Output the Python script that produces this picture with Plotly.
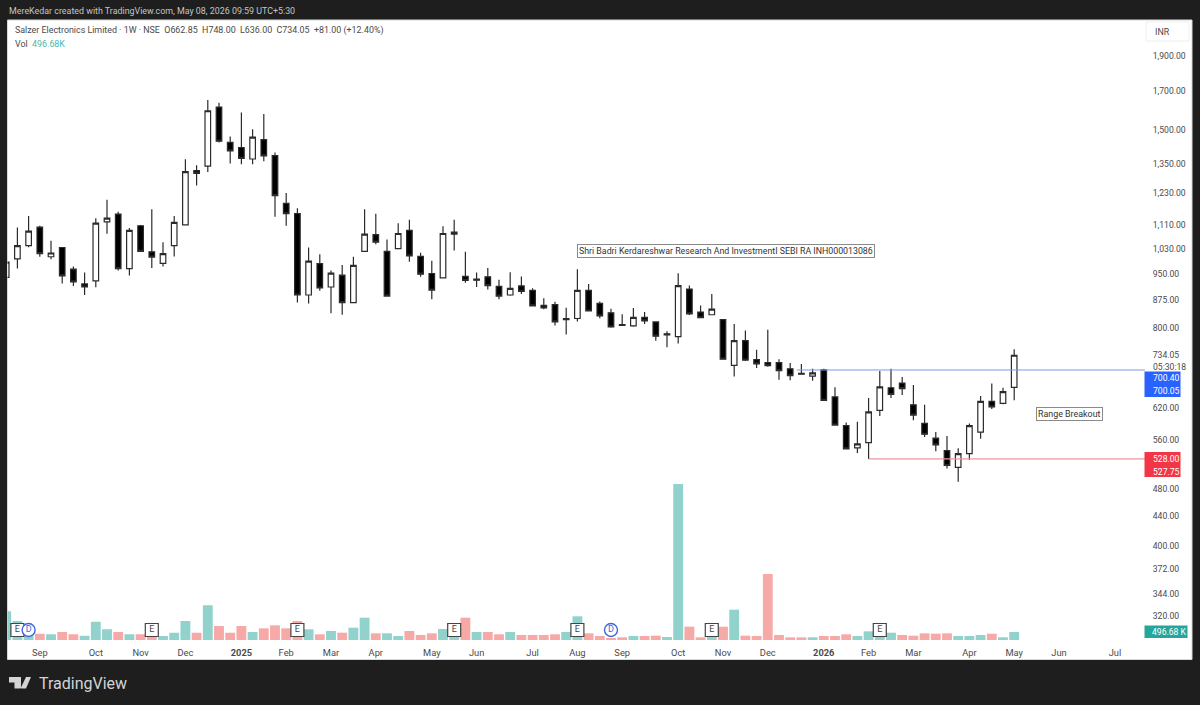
import plotly.graph_objects as go

W, H = 1200, 705

# weekly bars
opens = [940, 997, 1040, 1103, 1004, 1034, 965, 921, 930, 1122, 1150, 967, 1108, 1020, 983, 1040, 1111, 1320, 1339, 1616,
         1444, 1421, 1370, 1457, 1385, 1190, 1152, 889, 982, 912, 947, 868, 1021, 1077, 1021, 1030, 1092, 1005, 952, 939,
         1079, 943, 935, 942, 914, 889, 915, 902, 860, 862, 825, 825, 902, 866, 840, 809, 806, 828, 816, 786,
         779, 906, 842, 835, 822, 711, 769, 724, 717, 717, 703, 693, 687, 701, 643, 587, 547, 556, 616, 662,
         672, 627, 591, 564, 542, 514, 537, 575, 634, 630, 662.85]
highs = [987, 1102, 1143, 1108, 1056, 1034, 973, 955, 1135, 1203, 1158, 1100, 1111, 1168, 1051, 1143, 1369, 1343, 1652, 1638,
         1472, 1588, 1506, 1580, 1398, 1230, 1171, 1034, 1012, 961, 978, 1004, 1168, 1151, 1061, 1117, 1129, 1017, 991, 1106,
         1129, 1020, 955, 969, 933, 956, 943, 908, 880, 870, 854, 965, 921, 871, 851, 836, 853, 842, 817, 792,
         953, 916, 860, 892, 822, 811, 794, 747, 796, 725, 716, 714, 703, 703, 663, 593, 594, 641, 698, 703,
         685, 668, 627, 575, 568, 546, 591, 645, 671, 662, 748]
lows = [940, 967, 1035, 1004, 996, 922, 915, 889, 911, 1080, 961, 946, 1019, 969, 973, 1005, 1111, 1259, 1314, 1444,
        1350, 1347, 1347, 1360, 1140, 1108, 868, 865, 901, 839, 835, 866, 1020, 1045, 885, 1029, 988, 942, 877, 938,
        1024, 924, 912, 905, 877, 887, 892, 858, 850, 807, 784, 817, 844, 826, 801, 806, 804, 811, 769, 753,
        762, 834, 826, 834, 724, 686, 721, 705, 708, 679, 678, 690, 677, 635, 587, 544, 538, 528, 605, 641,
        647, 597, 566, 541, 512, 491, 526, 563, 619, 628, 636]
closes = [987, 1040, 1089, 1014, 1016, 945, 927, 912, 1117, 1135, 967, 1092, 1021, 1003, 1014, 1120, 1316, 1309, 1597, 1450,
          1406, 1373, 1469, 1384, 1219, 1151, 889, 990, 909, 953, 868, 977, 1079, 1052, 886, 1081, 1007, 950, 903, 1081,
          1086, 931, 932, 916, 886, 908, 899, 859, 853, 816, 822, 902, 845, 832, 803, 807, 828, 819, 780, 783,
          916, 837, 827, 850, 725, 769, 723, 714, 710, 699, 688, 691, 694, 636, 588, 545, 554, 613, 664, 648,
          660, 607, 571, 552, 517, 537, 587, 634, 623, 654, 734.05]
volumes = [1780, 1178, 744, 391, 353, 496, 353, 267, 1135, 663, 496, 353, 353, 248, 248, 453, 1178, 453, 2151, 868,
           453, 868, 496, 725, 911, 725, 1178, 663, 353, 558, 453, 763, 1383, 415, 415, 248, 558, 310, 415, 682,
           186, 1383, 496, 496, 353, 496, 310, 310, 310, 353, 496, 1469, 415, 248, 124, 167, 248, 248, 267, 186,
           9672, 825, 167, 186, 825, 1879, 267, 248, 4092, 310, 167, 167, 167, 248, 248, 353, 248, 539, 310, 453,
           310, 267, 415, 391, 415, 248, 248, 310, 391, 167, 496.68]
vol_up = [0, 1, 2, 4, 7, 8, 9, 11, 14, 15, 16, 18, 22, 27, 29, 31, 32, 34, 35, 39, 40, 42, 45, 50, 51, 56, 59, 60, 63,
          65, 72, 76, 77, 78, 79, 85, 86, 87, 89, 90]
weeks = list(range(len(closes)))

month_weeks = [3, 8, 12, 16, 21, 25, 29, 33, 38, 42, 47, 51, 55, 60, 64, 68, 73, 77, 81, 86, 90, 94, 99]
month_labels = ["Sep", "Oct", "Nov", "Dec", "<b>2025</b>", "Feb", "Mar", "Apr", "May", "Jun", "Jul", "Aug", "Sep", "Oct",
                "Nov", "Dec", "<b>2026</b>", "Feb", "Mar", "Apr", "May", "Jun", "Jul"]
price_ticks = [1900, 1700, 1500, 1350, 1230, 1110, 1030, 950, 875, 800, 734.05, 620, 560, 480, 440, 400, 372, 344, 320]
price_labels = ["1,900.00", "1,700.00", "1,500.00", "1,350.00", "1,230.00", "1,110.00", "1,030.00", "950.00", "875.00",
                "800.00", "734.05", "620.00", "560.00", "480.00", "440.00", "400.00", "372.00", "344.00", "320.00"]

earnings_weeks = [1, 13, 26, 40, 51, 63, 78]
dividend_weeks = [2, 54]
resistance_start, resistance = 70.6, 700.4
support_start, support = 77, 528.0

FONT = "Roboto"
DARK = "#1e1e1e"
INK = "#4a4a4a"


def px(x):
    return x / W


def py(y):
    return 1 - y / H


fig = go.Figure()

fig.add_trace(go.Candlestick(
    x=weeks, open=opens, high=highs, low=lows, close=closes,
    increasing=dict(line=dict(color="#2b2b2b", width=1.2), fillcolor="#ffffff"),
    decreasing=dict(line=dict(color="#2b2b2b", width=1.2), fillcolor="#000000"),
))
fig.add_trace(go.Scatter(x=[resistance_start, 102], y=[resistance, resistance], mode="lines",
                         line=dict(color="#7d9be0", width=1.2)))
fig.add_trace(go.Scatter(x=[support_start, 102], y=[support, support], mode="lines",
                         line=dict(color="#e89aa2", width=1.2)))

# volume sits on its own axis at the bottom of the pane
bar_colors = ["#92d2cc" if i in vol_up else "#f7a9a7" for i in weeks]
fig.add_trace(go.Bar(x=weeks, y=volumes, marker=dict(color=bar_colors, line=dict(width=0)), yaxis="y2", width=0.88))

event_level = 620
fig.add_trace(go.Scatter(
    x=earnings_weeks, y=[event_level] * len(earnings_weeks), yaxis="y2", mode="markers+text",
    marker=dict(symbol="square", size=13, color="#ffffff", line=dict(color="#444444", width=1.2)),
    text=["E"] * len(earnings_weeks), textposition="middle center",
    textfont=dict(family=FONT, size=9, color="#444444"),
))
fig.add_trace(go.Scatter(
    x=dividend_weeks, y=[event_level] * len(dividend_weeks), yaxis="y2", mode="markers+text",
    marker=dict(symbol="circle", size=13, color="#ffffff", line=dict(color="#3f66d8", width=1.4)),
    text=["D"] * len(dividend_weeks), textposition="middle center",
    textfont=dict(family=FONT, size=9, color="#3f66d8"),
))


def note(x, y, text, color=INK, size=8.9, anchor="left", **kw):
    fig.add_annotation(xref="paper", yref="paper", x=px(x), y=py(y), text=text, showarrow=False,
                       xanchor=anchor, yanchor="middle", font=dict(family=FONT, size=size, color=color), **kw)


def box(x0, y0, x1, y1, fill, line=None):
    fig.add_shape(type="rect", xref="paper", yref="paper", layer="below", x0=px(x0), x1=px(x1), y0=py(y0), y1=py(y1),
                  fillcolor=fill, line=dict(color=line or fill, width=1))


# page chrome
box(7.5, 20, 1192, 659.5, "#ffffff", "#d8d8d8")
note(7, 11, "MereKedar created with TradingView.com, May 08, 2026 09:59 UTC+5:30", color="#c4c4c4")
note(13, 30.5, "Salzer Electronics Limited · 1W · NSE  O662.85  H748.00  L636.00  C734.05  +81.00 (+12.40%)")
note(13, 44, "Vol  <span style='color:#4db6ac'>496.68K</span>")
note(37, 683, "TradingView", color="#d4d4d4", size=16)

logo = "M 9 677 L 21 677 L 21 688.5 L 14.5 688.5 L 14.5 682.5 L 9 682.5 Z M 26 677 L 31 677 L 26 688.5 L 20.5 688.5 Z"
parts = logo.split()
path = []
i = 0
while i < len(parts):
    if parts[i] in "ML":
        path.append(f"{parts[i]} {px(float(parts[i + 1])):.5f} {py(float(parts[i + 2])):.5f}")
        i += 3
    else:
        path.append(parts[i])
        i += 1
fig.add_shape(type="path", xref="paper", yref="paper", path=" ".join(path), fillcolor="#d4d4d4", line=dict(width=0))

box(1146, 22, 1189, 41, "#ffffff", "#eeeeee")
note(1153, 32, "INR")
note(1150.5, 366.5, "05:30:18", size=8.6)

# price labels on the scale
fig.add_shape(type="rect", xref="paper", yref="paper", x0=px(1144.5), x1=px(1180.5), y0=py(371.5), y1=py(397),
              fillcolor="#2962ff", line=dict(width=0))
note(1150.5, 378, "700.40", color="#ffffff", size=8.6)
note(1150.5, 391, "700.05", color="#ffffff", size=8.6)
fig.add_shape(type="rect", xref="paper", yref="paper", x0=px(1144.5), x1=px(1180.5), y0=py(452), y1=py(477),
              fillcolor="#f23645", line=dict(width=0))
note(1150.5, 458.5, "528.00", color="#ffffff", size=8.6)
note(1150.5, 471.5, "527.75", color="#ffffff", size=8.6)
fig.add_shape(type="rect", xref="paper", yref="paper", x0=px(1144.5), x1=px(1187.5), y0=py(625.5), y1=py(638),
              fillcolor="#26a69a", line=dict(width=0))
note(1149.5, 632, "496.68 K", color="#ffffff", size=8.6)

# text boxes drawn on the chart
note(577, 250.5, "Shri Badri Kerdareshwar Research And InvestmentI SEBI RA INH000013086", color="#333333", size=8.8,
     bgcolor="#ffffff", bordercolor="#8a8a8a", borderwidth=1, borderpad=1)
note(1036, 413.5, "Range Breakout", color="#333333", bgcolor="#ffffff", bordercolor="#8a8a8a", borderwidth=1,
     borderpad=1)

fig.update_layout(
    width=W, height=H, margin=dict(l=0, r=0, t=0, b=0), showlegend=False, paper_bgcolor=DARK, plot_bgcolor="rgba(0,0,0,0)",
    boxgap=0.29, hovermode=False,
    xaxis=dict(domain=[px(7.5), px(1145)], range=[0.116, 101.68], rangeslider=dict(visible=False), showgrid=False,
               zeroline=False, tickmode="array", tickvals=month_weeks, ticktext=month_labels, ticks="outside",
               ticklen=4, tickcolor="#ffffff", tickfont=dict(family=FONT, size=9.3, color=INK), tickangle=0),
    yaxis=dict(domain=[py(640), py(20)], type="log", range=[2.4726, 3.3286], side="right", showgrid=False,
               zeroline=False, tickmode="array", tickvals=price_ticks, ticktext=price_labels, ticks="outside",
               ticklen=5, tickcolor="#ffffff", tickfont=dict(family=FONT, size=8.6, color=INK)),
    yaxis2=dict(domain=[py(640), py(20)], overlaying="y", range=[0, 38440], visible=False),
)

fig.write_html("out.html", config={"displayModeBar": False},
               post_script="document.body.style.margin='0';document.body.style.overflow='hidden';")
